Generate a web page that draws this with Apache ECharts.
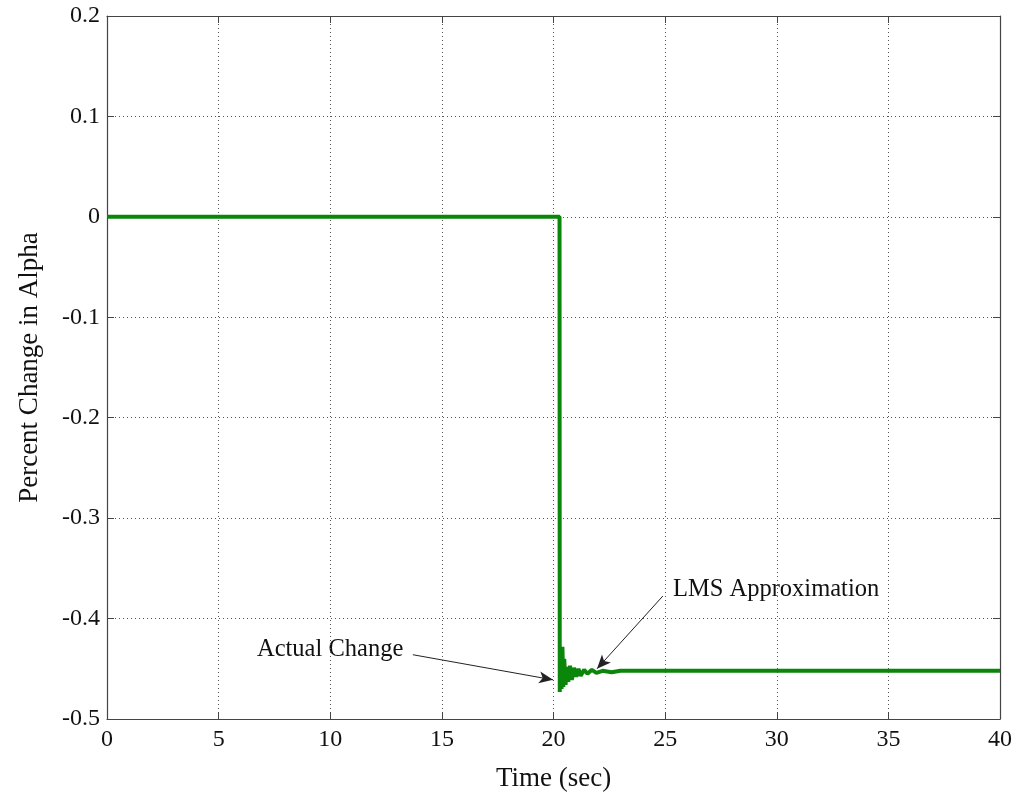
<!DOCTYPE html>
<html>
<head>
<meta charset="utf-8">
<script src="https://cdn.jsdelivr.net/npm/echarts@6/dist/echarts.min.js"></script>
<style>
html,body{margin:0;padding:0;background:#fff;}
#chart{width:1019px;height:803px;}
</style>
</head>
<body>
<div id="chart"></div>
<script>
// Time (sec) and percent change in alpha
var timeSec = [0, 20.27, 20.28, 20.32, 20.36, 20.40, 20.44, 20.48, 20.54, 20.60, 20.66, 20.74, 20.82, 20.92, 21.02, 21.12, 21.22, 21.37, 21.52, 21.72, 21.92, 22.20, 22.60, 23.00, 40];
var alphaChange = [0, 0, -0.473, -0.432, -0.470, -0.428, -0.468, -0.440, -0.466, -0.448, -0.463, -0.447, -0.461, -0.449, -0.458, -0.450, -0.457, -0.451, -0.455, -0.451, -0.454, -0.452, -0.4535, -0.452, -0.452];

// Annotations: label text, arrow start [t, value], arrow tip [t, value]
var annotationText = ['Actual Change', 'LMS Approximation'];
var arrowStart = [[13.7, -0.436], [24.9, -0.3775]];
var arrowEnd = [[19.98, -0.461], [21.95, -0.450]];

var xTicks = {min: 0, max: 40, interval: 5};
var yTicks = {min: -0.5, max: 0.2, interval: 0.1};

var font = 'Liberation Serif, Times New Roman, serif';
var axisColor = '#444';

var chart = echarts.init(document.getElementById('chart'));

var pairs = timeSec.map(function (t, i) { return [t, alphaChange[i]]; });
var arrows = arrowStart.map(function (s, i) {
  return [{coord: s, symbol: 'none'}, {coord: arrowEnd[i], symbol: 'arrow'}];
});

function boxAxis(pos, isX, main) {
  var ax = {
    type: 'value',
    position: pos,
    min: isX ? xTicks.min : yTicks.min,
    max: isX ? xTicks.max : yTicks.max,
    interval: isX ? xTicks.interval : yTicks.interval,
    axisLine: {show: true, onZero: false, lineStyle: {color: axisColor, width: 1.2}},
    axisTick: {show: true, inside: true, length: 7, lineStyle: {color: axisColor}},
    axisLabel: {show: false},
    splitLine: {show: false}
  };
  if (main) {
    ax.axisLabel = {
      show: true, color: '#111', fontFamily: font, fontSize: 24, margin: isX ? 9 : 7,
      formatter: function (v) { return isX ? String(v) : (Math.round(v * 10) / 10).toString(); }
    };
    ax.splitLine = {show: true, lineStyle: {color: '#555', type: [1, 3], width: 1}};
    ax.nameLocation = 'middle';
    ax.nameTextStyle = {fontFamily: font, fontSize: 27, color: '#111'};
    if (isX) { ax.name = 'Time (sec)'; ax.nameGap = 46; }
    else { ax.name = 'Percent Change in Alpha'; ax.nameGap = 64; }
  }
  return ax;
}

chart.setOption({
  animation: false,
  backgroundColor: '#fff',
  grid: {left: 107, right: 19, top: 16, bottom: 84},
  xAxis: [boxAxis('bottom', true, true), boxAxis('top', true, false)],
  yAxis: [boxAxis('left', false, true), boxAxis('right', false, false)],
  series: [{
    type: 'line',
    data: pairs,
    showSymbol: false,
    symbol: 'none',
    lineStyle: {color: '#0a870a', width: 4},
    z: 3,
    markLine: {
      silent: true,
      symbolSize: [9, 14],
      label: {show: false},
      lineStyle: {color: '#222', width: 1, type: 'solid'},
      data: arrows
    }
  }],
  graphic: [
    {type: 'text', left: 257, top: 637, style: {text: annotationText[0], font: '24.5px ' + font, fill: '#111'}},
    {type: 'text', left: 673, top: 577, style: {text: annotationText[1], font: '24.5px ' + font, fill: '#111'}}
  ]
});
</script>
</body>
</html>
